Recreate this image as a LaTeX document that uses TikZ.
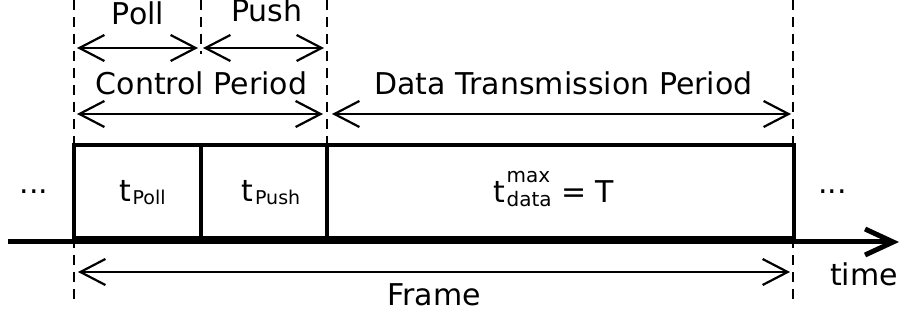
\documentclass[tikz,border=0pt]{standalone}
\usepackage{fontspec}
\setmainfont{DejaVu Sans}
\usetikzlibrary{arrows.meta}
\begin{document}
\begin{tikzpicture}[x=1pt,y=-1pt,
  lbl/.style={inner sep=0pt, anchor=base, font=\fontsize{30}{36}\selectfont},
  guide/.style={line width=2pt, dash pattern=on 10pt off 7pt},
  span/.style={line width=2.2pt,
    {Straight Barb[length=25pt,width=26pt]}-{Straight Barb[length=25pt,width=26pt]}},
  slotline/.style={line width=4pt, line join=miter},
  axisline/.style={line width=5pt, -{Straight Barb[length=28pt,width=26pt]}}]
\useasboundingbox (0,0) rectangle (904,320);

% vertical guide lines
\coordinate (g0t) at (74,0);   \coordinate (g0b) at (74,300);
\coordinate (g1t) at (201,0);  \coordinate (g1b) at (201,54);
\coordinate (g2t) at (327,0);  \coordinate (g2b) at (327,143);
\coordinate (g3t) at (793,0);  \coordinate (g3b) at (793,300);
\draw[guide] (g0t) -- (g0b);
\draw[guide] (g1t) -- (g1b);
\draw[guide] (g2t) -- (g2b);
\draw[guide] (g3t) -- (g3b);

% span arrows
\coordinate (pollL) at (77,48);   \coordinate (pollR) at (198,48);
\coordinate (pushL) at (203,48);  \coordinate (pushR) at (324,48);
\coordinate (ctrlL) at (77,114);  \coordinate (ctrlR) at (323,114);
\coordinate (dataL) at (332,114); \coordinate (dataR) at (791,114);
\coordinate (frmL) at (78,272);   \coordinate (frmR) at (790,272);
\draw[span] (pollL) -- (pollR);
\draw[span] (pushL) -- (pushR);
\draw[span] (ctrlL) -- (ctrlR);
\draw[span] (dataL) -- (dataR);
\draw[span] (frmL) -- (frmR);

% labels of the spans
\node[lbl] (lpoll) at (138,25) {Poll};
\node[lbl] (lpush) at (267,22) {Push};
\node[lbl] (lctrl) at (201.5,95) {Control Period};
\node[lbl] (ldata) at (563.5,95) {Data Transmission Period};
\node[lbl] (lfrm) at (434,305) {Frame};

% frame slots
\draw[slotline] (74,238) -- (74,145) -- (794,145) -- (794,238) -- cycle;
\draw[slotline] (201,145) -- (201,238);
\draw[slotline] (327,145) -- (327,238);

% time axis
\coordinate (ax0) at (8,242);
\coordinate (ax1) at (899,242);
\draw[axisline] (ax0) -- (ax1);
\node[lbl] (ltime) at (864,285) {time};

% slot contents
\node[lbl] (tpoll) at (142.5,202) {t\hspace{1.5pt}\raisebox{-3pt}{\fontsize{19}{22}\selectfont Poll}};
\node[lbl] (tpush) at (271,202) {t\hspace{1.5pt}\raisebox{-3pt}{\fontsize{19}{22}\selectfont Push}};
\node[lbl] (tdata) at (554,203) {t\hspace{1pt}\rlap{\raisebox{20pt}{\fontsize{20}{24}\selectfont max}}\raisebox{-4pt}{\fontsize{20}{24}\selectfont data} = T};

% continuation dots
\node[lbl] (dl) at (34,194) {...};
\node[lbl] (dr) at (832.5,194) {...};
\end{tikzpicture}
\end{document}
